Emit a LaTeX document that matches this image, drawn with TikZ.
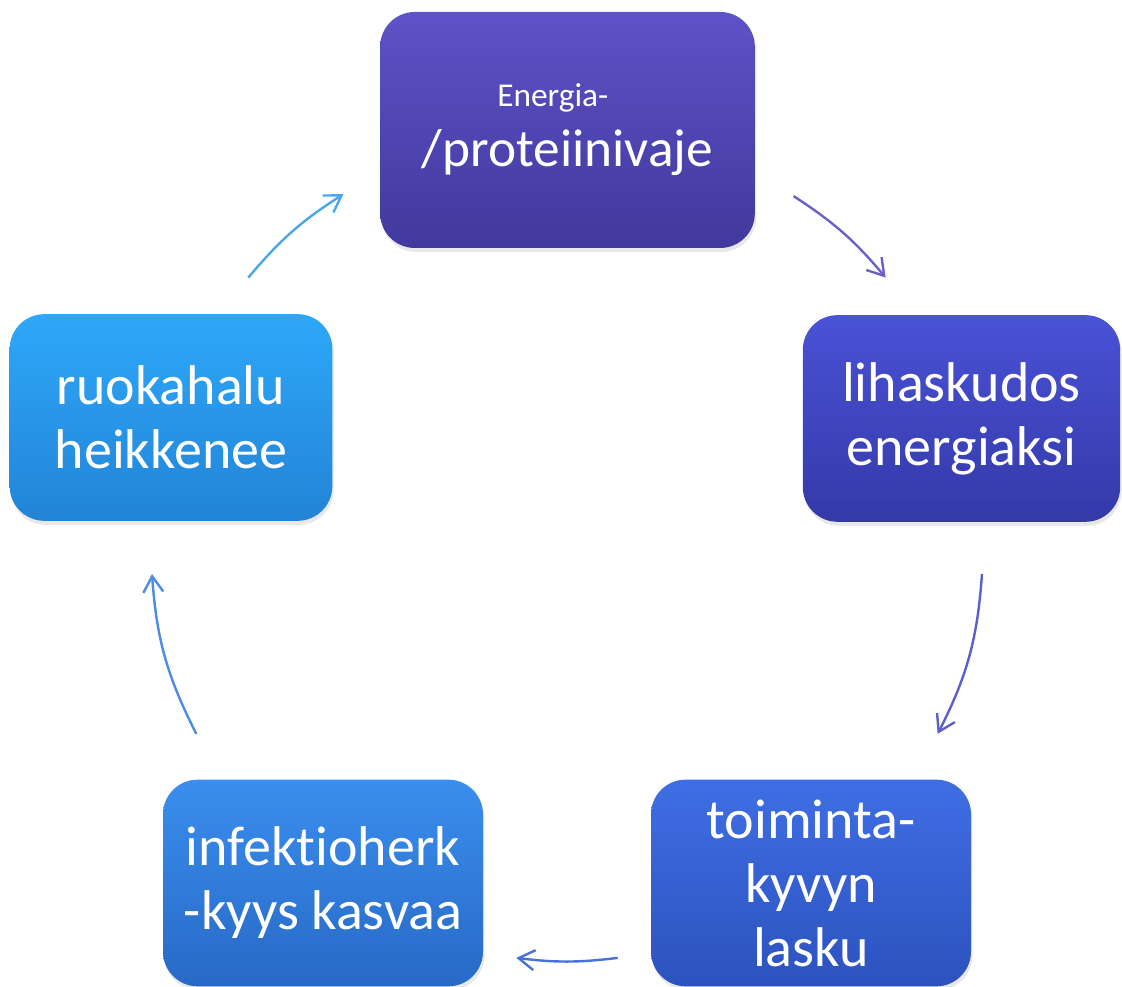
\documentclass[tikz,border=0pt]{standalone}
\usepackage{fontspec}
\setmainfont{Carlito}[Ligatures=NoCommon]
\usetikzlibrary{arrows.meta,shadows}

\definecolor{vajeA}{HTML}{5D52C8}
\definecolor{vajeB}{HTML}{41399C}
\definecolor{lihasA}{HTML}{4A52D6}
\definecolor{lihasB}{HTML}{3439A8}
\definecolor{kykyA}{HTML}{3F6EE4}
\definecolor{kykyB}{HTML}{2C52BE}
\definecolor{infA}{HTML}{3A8EEE}
\definecolor{infB}{HTML}{2869C6}
\definecolor{ruokaA}{HTML}{2EA8FA}
\definecolor{ruokaB}{HTML}{2284D6}
\definecolor{nuoliA}{HTML}{6A62C8}
\definecolor{nuoliB}{HTML}{5A60CE}
\definecolor{nuoliC}{HTML}{4A70DA}
\definecolor{nuoliD}{HTML}{4C8CE2}
\definecolor{nuoliE}{HTML}{4AA8EA}

\begin{document}
\begin{tikzpicture}%
[x=0.75pt, y=0.75pt,%
box/.style={rounded corners=26pt, text=white, align=center, inner sep=0pt,%
  font=\fontsize{42}{48}\selectfont, minimum width=240pt, minimum height=155pt,%
  drop shadow={opacity=0.18, shadow xshift=1pt, shadow yshift=-3pt}},%
cyc/.style={-{Straight Barb[length=12pt,width=15pt]}, line width=1.8pt}]
\useasboundingbox (0,0) rectangle (1122,987);
\coordinate (hub) at (567,442);
\node[box, minimum width=281pt, minimum height=177pt, top color=vajeA, bottom color=vajeB]
  (vaje) at (567.5,857) {{\fontsize{25}{30}\selectfont Energia-\hspace*{22pt}}\\[-3pt]{\fontsize{40}{43}\selectfont /proteiinivaje}};
\node[box, minimum width=238pt, top color=lihasA, bottom color=lihasB]
  (lihas) at (961.5,568.5) {lihaskudos\\energiaksi};
\node[box, top color=kykyA, bottom color=kykyB]
  (kyky) at (811,104) {toiminta-\\kyvyn\\lasku};
\node[box, top color=infA, bottom color=infB]
  (infektio) at (323,104) {infektioherk\\-kyys kasvaa};
\node[box, minimum width=242pt, top color=ruokaA, bottom color=ruokaB]
  (ruoka) at (171,569.5) {ruokahalu\\heikkenee};
% arrow ends on the circle round the hub
\coordinate (a1s) at ([shift={(57:416)}]hub);
\coordinate (a1e) at ([shift={(40:416)}]hub);
\coordinate (a2s) at ([shift={(-4:416)}]hub);
\coordinate (a2e) at ([shift={(-27:416)}]hub);
\coordinate (a3s) at ([shift={(-83:416)}]hub);
\coordinate (a3e) at ([shift={(-97:416)}]hub);
\coordinate (a4s) at ([shift={(207:416)}]hub);
\coordinate (a4e) at ([shift={(184:416)}]hub);
\coordinate (a5s) at ([shift={(140:416)}]hub);
\coordinate (a5e) at ([shift={(122.5:416)}]hub);
\draw[cyc, nuoliA] (a1s) to[bend left=8.5] (a1e);
\draw[cyc, nuoliB] (a2s) to[bend left=11.5] (a2e);
\draw[cyc, nuoliC] (a3s) to[bend left=7] (a3e);
\draw[cyc, nuoliD] (a4s) to[bend left=11.5] (a4e);
\draw[cyc, nuoliE] (a5s) to[bend left=8.75] (a5e);
\end{tikzpicture}
\end{document}
